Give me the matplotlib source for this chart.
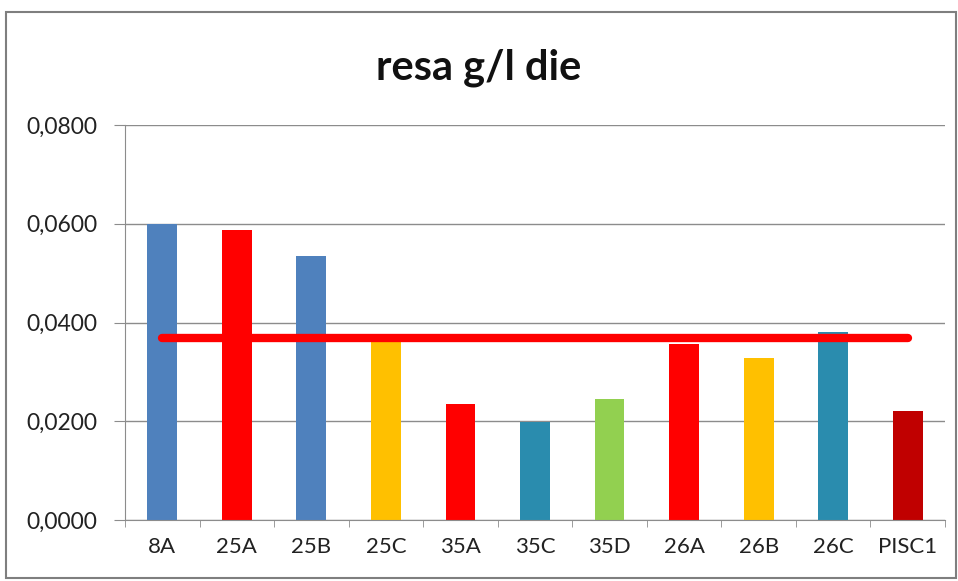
import matplotlib.pyplot as plt
import numpy as np
from matplotlib.patches import Rectangle
from matplotlib.ticker import FuncFormatter, FixedLocator

categorie = ["8A", "25A", "25B", "25C", "35A", "35C", "35D", "26A", "26B", "26C", "PISC1"]
resa = [0.0600, 0.0587, 0.0535, 0.0360, 0.0235, 0.0199, 0.0245, 0.0356, 0.0328, 0.0381, 0.0221]
media = [0.0368] * len(categorie)
colori = ["#4F81BD", "#FF0000", "#4F81BD", "#FFC000", "#FF0000", "#2A8CAE",
          "#92D050", "#FF0000", "#FFC000", "#2A8CAE", "#C00000"]

plt.rcParams['font.family'] = ['Lato', 'DejaVu Sans']

fig = plt.figure(figsize=(9.58, 5.81), dpi=100)
ax = fig.add_axes([125 / 958, 1 - 520 / 581, 820 / 958, 395 / 581])

x = np.arange(len(categorie))
ax.bar(x, resa, 0.4, color=colori, zorder=2)
ax.plot(x, media, color="#FF0000", linewidth=6, solid_capstyle="round", zorder=3)

ax.set_xlim(-0.5, len(categorie) - 0.5)
ax.set_ylim(0, 0.08)
ax.set_yticks([0, 0.02, 0.04, 0.06, 0.08])
ax.yaxis.set_major_formatter(FuncFormatter(lambda v, p: f"{v:.4f}".replace(".", ",")))
ax.grid(axis="y", color="#8C8C8C", linewidth=1, zorder=0)

ax.set_xticks(x)
ax.set_xticklabels(categorie)
ax.xaxis.set_minor_locator(FixedLocator(np.arange(-0.5, len(categorie), 1)))
ax.tick_params(axis="x", which="major", length=0, pad=12, labelsize=16, labelcolor="#222222")
ax.tick_params(axis="x", which="minor", length=5, color="#8C8C8C", direction="out")
ax.tick_params(axis="y", length=8, color="#8C8C8C", pad=12, labelsize=16.5, labelcolor="#222222")

for s in ["top", "right"]:
    ax.spines[s].set_visible(False)
for s in ["left", "bottom"]:
    ax.spines[s].set_color("#8C8C8C")

fig.text(0.5, 1 - 68 / 581, "resa g/l die", ha="center", va="center",
         fontsize=30, fontweight="bold", color="#111111")

fig.patches.append(Rectangle((6 / 958, 1 - 578 / 581), 950 / 958, 566 / 581,
                             transform=fig.transFigure, fill=False,
                             edgecolor="#7F7F7F", linewidth=1.5))

fig.savefig("out.png", dpi=100)
